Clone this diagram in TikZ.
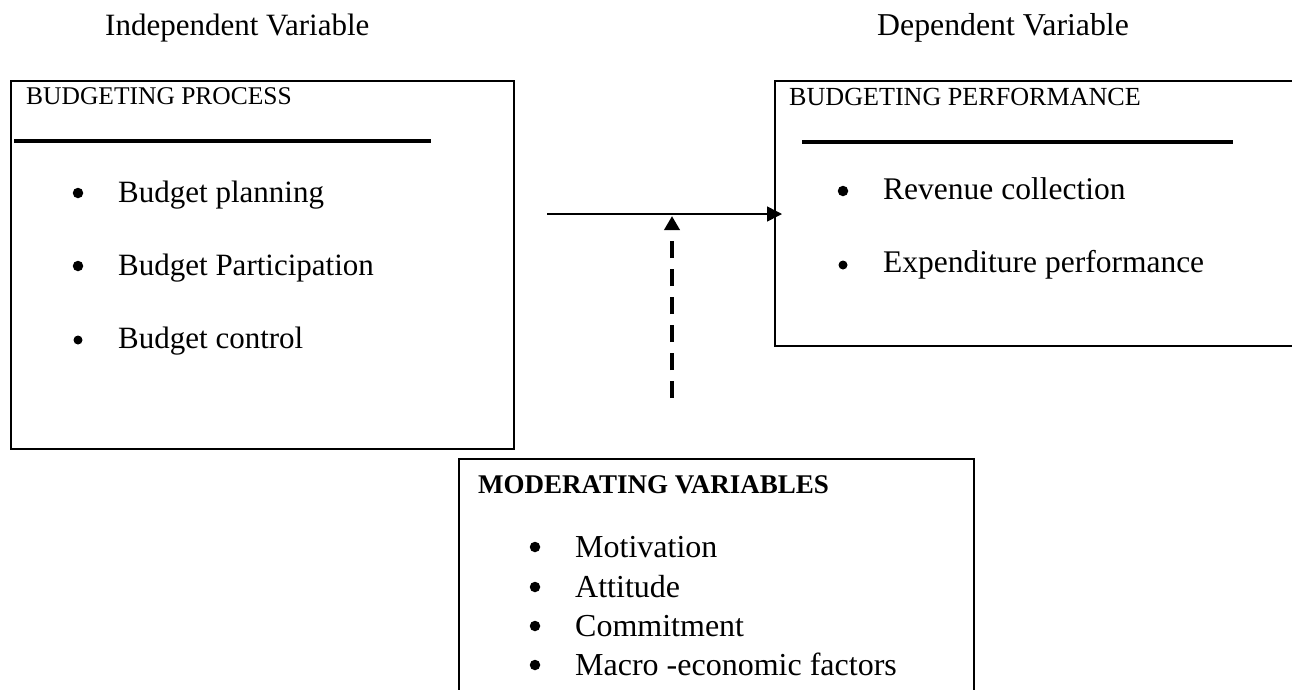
\documentclass[tikz,border=0pt]{standalone}
\usepackage{fontspec}
\setmainfont{Liberation Serif}
\usetikzlibrary{arrows.meta}
\begin{document}
\begin{tikzpicture}[x=1pt,y=-1pt,
  toplbl/.style={anchor=base west, inner sep=0pt, font=\fontsize{31}{37}\selectfont},
  toplbltwo/.style={anchor=base west, inner sep=0pt, font=\fontsize{31.8}{37}\selectfont},
  headlbl/.style={anchor=base west, inner sep=0pt, font=\fontsize{25.5}{30}\selectfont},
  headlbltwo/.style={anchor=base west, inner sep=0pt, font=\fontsize{26.1}{30}\selectfont},
  boldlbl/.style={anchor=base west, inner sep=0pt, font=\fontsize{27}{31}\selectfont\bfseries},
  itemlbl/.style={anchor=base west, inner sep=0pt, font=\fontsize{31}{37}\selectfont},
  itemlbltwo/.style={anchor=base west, inner sep=0pt, font=\fontsize{31.5}{37}\selectfont},
  modlbl/.style={anchor=base west, inner sep=0pt, font=\fontsize{32}{38}\selectfont},
  bigbul/.style={circle, fill, inner sep=0pt, minimum size=10.5pt},
  smallbul/.style={circle, fill, inner sep=0pt, minimum size=9pt},
  framebox/.style={draw, line width=2pt, anchor=north west, inner sep=0pt},
  rulebar/.style={line width=4.5pt},
  conn/.style={line width=1.5pt, -{Triangle[length=15pt,width=15pt]}},
  dashconn/.style={line width=3.5pt, dash pattern=on 17pt off 11pt, -{Triangle[length=14pt,width=15pt]}}
]
\useasboundingbox (0,0) rectangle (1292,689);

% titles
\node[toplbl] (tind) at (105,35) {Independent Variable};
\node[toplbltwo] (tdep) at (877,35) {Dependent Variable};

% left box
\node[framebox, minimum width=503pt, minimum height=368pt] (ind) at (10,80) {};
\node[headlbl] (indh) at (26,104) {BUDGETING PROCESS};
\draw[rulebar] (14,141) -- (431,141);
\node[bigbul] (b1) at (78,193) {};
\node[itemlbl] (i1) at (118,202) {Budget planning};
\node[bigbul] (b2) at (78,266) {};
\node[itemlbl] (i2) at (118,275) {Budget Participation};
\node[smallbul] (b3) at (78,340) {};
\node[itemlbl] (i3) at (118,348) {Budget control};

% right box (open on the right)
\node[framebox, minimum width=540pt, minimum height=265pt] (dep) at (774,80) {};
\node[headlbltwo] (deph) at (789,105) {BUDGETING PERFORMANCE};
\draw[rulebar] (802,142) -- (1233,142);
\node[bigbul] (b4) at (843,191) {};
\node[itemlbltwo] (i4) at (883,199) {Revenue collection};
\node[smallbul] (b5) at (843,265) {};
\node[itemlbltwo] (i5) at (883,272) {Expenditure performance};

% moderating box (open at the bottom)
\node[framebox, minimum width=515pt, minimum height=260pt] (mod) at (458,458) {};
\node[boldlbl] (modh) at (478,493) {MODERATING VARIABLES};
\node[bigbul] (b6) at (535,547) {};
\node[modlbl] (i6) at (575,557) {Motivation};
\node[bigbul] (b7) at (535,587) {};
\node[modlbl] (i7) at (575,597) {Attitude};
\node[bigbul] (b8) at (535,626) {};
\node[modlbl] (i8) at (575,636) {Commitment};
\node[bigbul] (b9) at (535,665) {};
\node[modlbl] (i9) at (575,675) {Macro -economic factors};

% connectors
\coordinate (a0) at (547,214);
\coordinate (a1) at (782,214);
\draw[conn] (a0) -- (a1);
\coordinate (m0) at (672,398);
\coordinate (m1) at (672,216);
\draw[dashconn] (m0) -- (m1);
\end{tikzpicture}
\end{document}
